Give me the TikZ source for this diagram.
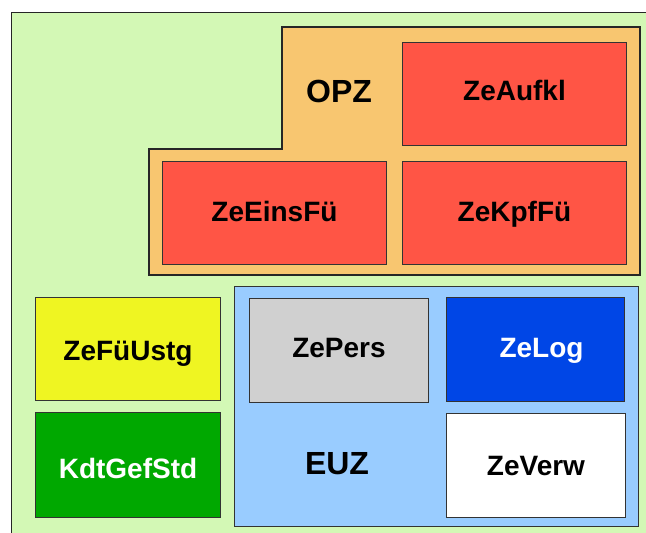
\documentclass[tikz,border=0pt]{standalone}
\usepackage{fontspec}
\setmainfont{Liberation Sans}
\definecolor{bggreen}{HTML}{D3F8B5}
\definecolor{opzorange}{HTML}{F8C670}
\definecolor{zered}{HTML}{FF5545}
\definecolor{zeyellow}{HTML}{EFF522}
\definecolor{zegreen}{HTML}{00A800}
\definecolor{zeblue}{HTML}{0046E6}
\definecolor{euzblue}{HTML}{99CCFF}
\definecolor{zegrey}{HTML}{D0D0D0}
\definecolor{edge}{HTML}{333333}
\begin{document}
\begin{tikzpicture}[x=1pt,y=-1pt,
  box/.style={draw=edge, line width=1pt, rectangle, anchor=north west, inner sep=0pt},
  boxtext/.style={font=\fontsize{28}{30}\selectfont\bfseries, inner sep=0pt,
    text height=20pt, text depth=0pt},
  zonelabel/.style={font=\fontsize{32}{34}\selectfont\bfseries, inner sep=0pt,
    text height=23pt, text depth=0pt}]
\useasboundingbox (0,0) rectangle (646,533);
% background
\fill[bggreen] (11,12) rectangle (646,533);
\draw[line width=1pt, black!85] (11,533) -- (11,12) -- (646,12);
% OPZ zone
\draw[fill=opzorange, draw=black!85, line width=1.2pt]
  (282,27) -- (640,27) -- (640,275) -- (149,275) -- (149,149) -- (282,149) -- cycle;
\node[zonelabel] (opz) at (339,91) {OPZ};
\node[box, fill=zered, minimum width=224pt, minimum height=103pt] (aufkl) at (402,42) {};
\node[boxtext] (aufkltext) at ([yshift=4pt]aufkl.center) {ZeAufkl};
\node[box, fill=zered, minimum width=224pt, minimum height=103pt] (eins) at (162,161) {};
\node[boxtext] (einstext) at ([yshift=2pt]eins.center) {ZeEinsFü};
\node[box, fill=zered, minimum width=224pt, minimum height=103pt] (kpf) at (402,161) {};
\node[boxtext] (kpftext) at ([yshift=2pt]kpf.center) {ZeKpfFü};
% EUZ zone
\node[draw=edge, line width=1pt, fill=euzblue, anchor=north west, minimum width=404pt,
  minimum height=240pt, inner sep=0pt] (euz) at (234,286) {};
\node[zonelabel] (euzlabel) at (337,463) {EUZ};
\node[box, fill=zegrey, minimum width=179pt, minimum height=104pt] (pers) at (249,298) {};
\node[boxtext] (perstext) at ([yshift=3pt]pers.center) {ZePers};
\node[box, fill=zeblue, minimum width=178pt, minimum height=104pt] (log) at (446,297) {};
\node[boxtext, text=white] (logtext) at ([xshift=6pt,yshift=2pt]log.center) {ZeLog};
\node[box, fill=white, minimum width=179pt, minimum height=104pt] (verw) at (446,413) {};
\node[boxtext] (verwtext) at (verw.center) {ZeVerw};
% left boxes
\node[box, fill=zeyellow, minimum width=185pt, minimum height=103pt] (fue) at (35,297) {};
\node[boxtext] (fuetext) at ([yshift=-1pt]fue.center) {ZeFüUstg};
\node[box, fill=zegreen, minimum width=185pt, minimum height=105pt] (kdt) at (35,412) {};
\node[boxtext, text=white] (kdttext) at ([yshift=-3pt]kdt.center) {KdtGefStd};
\end{tikzpicture}
\end{document}
